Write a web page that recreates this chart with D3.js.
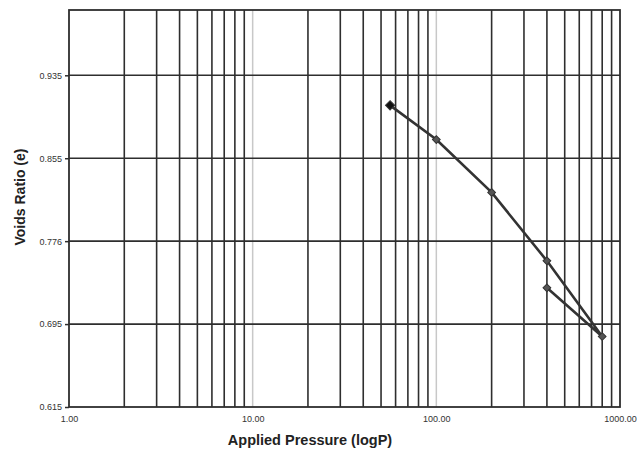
<!DOCTYPE html>
<html>
<head>
<meta charset="utf-8">
<script src="https://cdn.jsdelivr.net/npm/d3@7"></script>
<style>
  html, body { margin: 0; padding: 0; background: #fff; }
  svg { display: block; font-family: "Liberation Sans", Arial, sans-serif; }
</style>
</head>
<body>
<svg id="chart" width="637" height="456"></svg>
<script>
// consolidation test: load steps then unload back to 400
var pressure = [56, 100, 200, 400, 800, 400];
var voids = [0.906, 0.873, 0.822, 0.756, 0.683, 0.730];

var yTicks = [0.615, 0.695, 0.775, 0.855, 0.935];
var yTickLabels = ['0.615', '0.695', '0.776', '0.855', '0.935'];
var xTicks = [1, 10, 100, 1000];
var xTickLabels = ['1.00', '10.00', '100.00', '1000.00'];

var svg = d3.select('#chart');
var plotL = 69, plotR = 620, plotT = 10, plotB = 407;

var x = d3.scaleLog().domain([1, 1000]).range([plotL, plotR]);
var y = d3.scaleLinear().domain([0.615, 0.998]).range([plotB, plotT]);

// vertical grid: every 1..9 per decade
var minor = [];
[1, 10, 100].forEach(function (d) {
    for (var k = 2; k <= 9; k++) minor.push(d * k);
});

svg.append('g')
    .selectAll('line')
    .data([10, 100])
    .enter().append('line')
    .attr('x1', function (d) { return x(d); })
    .attr('x2', function (d) { return x(d); })
    .attr('y1', plotT).attr('y2', plotB)
    .attr('stroke', '#c8c8c8')
    .attr('stroke-width', 1.5);

svg.append('g')
    .selectAll('line')
    .data(minor)
    .enter().append('line')
    .attr('x1', function (d) { return x(d); })
    .attr('x2', function (d) { return x(d); })
    .attr('y1', plotT).attr('y2', plotB)
    .attr('stroke', '#2e2e2e')
    .attr('stroke-width', 1.6);

// horizontal grid
svg.append('g')
    .selectAll('line')
    .data(yTicks.slice(1))
    .enter().append('line')
    .attr('x1', plotL).attr('x2', plotR)
    .attr('y1', function (d) { return y(d); })
    .attr('y2', function (d) { return y(d); })
    .attr('stroke', '#2e2e2e')
    .attr('stroke-width', 1.6);

// frame
svg.append('rect')
    .attr('x', plotL).attr('y', plotT)
    .attr('width', plotR - plotL).attr('height', plotB - plotT)
    .attr('fill', 'none')
    .attr('stroke', '#2e2e2e')
    .attr('stroke-width', 1.8);

// y axis
var yAxis = d3.axisLeft(y)
    .tickValues(yTicks)
    .tickSize(4)
    .tickPadding(3)
    .tickFormat(function (d, i) { return yTickLabels[i]; });
var gy = svg.append('g')
    .attr('transform', 'translate(' + plotL + ',0)')
    .call(yAxis);
gy.select('.domain').remove();
gy.selectAll('line').attr('stroke', '#2e2e2e').attr('stroke-width', 1.5);
gy.selectAll('text').attr('font-size', 9).attr('fill', '#333').attr('font-family', 'Liberation Sans, Arial, sans-serif');

// x axis
var xAxis = d3.axisBottom(x)
    .tickValues(xTicks)
    .tickSize(0)
    .tickPadding(9)
    .tickFormat(function (d, i) { return xTickLabels[i]; });
var gx = svg.append('g')
    .attr('transform', 'translate(0,' + plotB + ')')
    .call(xAxis);
gx.select('.domain').remove();
gx.selectAll('text').attr('font-size', 9).attr('fill', '#333').attr('font-family', 'Liberation Sans, Arial, sans-serif');

// titles
svg.append('text')
    .attr('x', 310).attr('y', 445)
    .attr('text-anchor', 'middle')
    .attr('font-size', 14.5).attr('font-weight', 'bold').attr('fill', '#222')
    .text('Applied Pressure (logP)');

svg.append('text')
    .attr('transform', 'translate(25,197) rotate(-90)')
    .attr('text-anchor', 'middle')
    .attr('font-size', 14).attr('font-weight', 'bold').attr('fill', '#222')
    .text('Voids Ratio (e)');

// curve
var pts = pressure.map(function (p, i) { return [p, voids[i]]; });
var line = d3.line()
    .x(function (d) { return x(d[0]); })
    .y(function (d) { return y(d[1]); });

svg.append('path')
    .datum(pts)
    .attr('d', line)
    .attr('fill', 'none')
    .attr('stroke', '#333')
    .attr('stroke-width', 2.6);

// markers: squares turned 45 degrees
var marker = d3.symbol().type(d3.symbolSquare);
svg.append('g')
    .selectAll('path')
    .data(pts)
    .enter().append('path')
    .attr('transform', function (d) { return 'translate(' + x(d[0]) + ',' + y(d[1]) + ') rotate(45)'; })
    .attr('d', function (d, i) { return marker.size(i === 0 ? 42 : 30)(); })
    .attr('fill', function (d, i) { return i === 0 ? '#111' : '#555'; })
    .attr('stroke', '#333')
    .attr('stroke-width', 1);
</script>
</body>
</html>
